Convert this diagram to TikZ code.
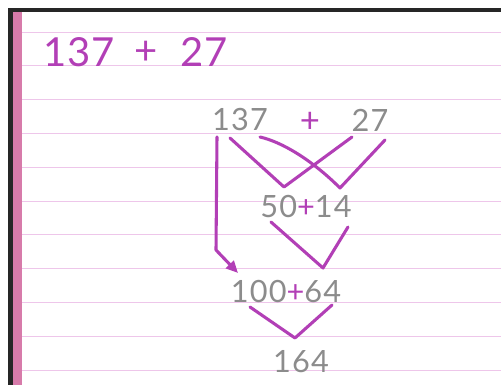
\documentclass[tikz,border=0pt]{standalone}
\usepackage{fontspec}
\setmainfont{Lato}
\usetikzlibrary{arrows.meta}
\definecolor{ink}{HTML}{B23FB6}
\definecolor{pencil}{HTML}{8C8C8C}
\definecolor{rule}{HTML}{EEC6EA}
\definecolor{margin}{HTML}{D77BAA}
\tikzset{
  penline/.style={draw=ink, line width=2.3pt, line cap=round, line join=round},
  graytext/.style={text=pencil, inner sep=0pt, font=\fontsize{23}{23}\selectfont\addfontfeature{LetterSpace=4}},
  inktext/.style={text=ink, inner sep=0pt, font=\fontsize{30}{30}\selectfont\addfontfeature{LetterSpace=2}},
  plusink/.style={text=ink, inner sep=0pt, font=\fontsize{26}{26}\selectfont},
  ruleline/.style={draw=rule, line width=0.6pt},
}
\begin{document}
\begin{tikzpicture}[x=0.75pt,y=-0.75pt]
\useasboundingbox (0,0) rectangle (501,385);
\fill[white] (0,0) rectangle (501,385);
% ruled lines
\foreach \k in {0,...,10}{
  \draw[ruleline] (22,{32+33.8*\k}) -- (501,{32+33.8*\k});
}
% margin and frame
\fill[margin] (13,10) rectangle (22,385);
\fill[black!85] (8,9) rectangle (13,385);
\fill[black!85] (8,8) rectangle (501,12);

% top title
\node[inktext] (t1) at (79,52) {137};
\node[inktext] (tp) at (146,53) {+};
\node[inktext] (t2) at (204,52) {27};

% working
\node[graytext] (a1) at (240,120) {137};
\node[plusink] (ap) at (310,122) {+};
\node[graytext] (a2) at (370,120) {27};

\node[graytext] (b) at (306,207) {50\textcolor{ink}{+}14};
\node[graytext] (c) at (286,292) {100\textcolor{ink}{+}64};
\node[graytext] (d) at (301,362) {164};

% connector points
\coordinate (v1a) at (230,138);
\coordinate (v1m) at (284,187);
\coordinate (v1b) at (352,137);
\coordinate (v2a) at (260,137);
\coordinate (v2m) at (340,188);
\coordinate (v2b) at (385,140);
\coordinate (v3a) at (271,222);
\coordinate (v3m) at (323,268);
\coordinate (v3b) at (348,227);
\coordinate (v4a) at (250,307);
\coordinate (v4m) at (295,338);
\coordinate (v4b) at (332,305);
\coordinate (r0) at (217,137);
\coordinate (r1) at (216,250);
\coordinate (r2) at (238,273);

\draw[penline] (v1a) -- (v1m) -- (v1b);
\draw[penline] (v2a) .. controls (282,142) and (312,160) .. (v2m) -- (v2b);
\draw[penline] (v3a) -- (v3m) -- (v3b);
\draw[penline] (v4a) -- (v4m) -- (v4b);
\draw[penline, -{Triangle[length=9pt,width=8pt]}] (r0) -- (r1) -- (r2);
\end{tikzpicture}
\end{document}
